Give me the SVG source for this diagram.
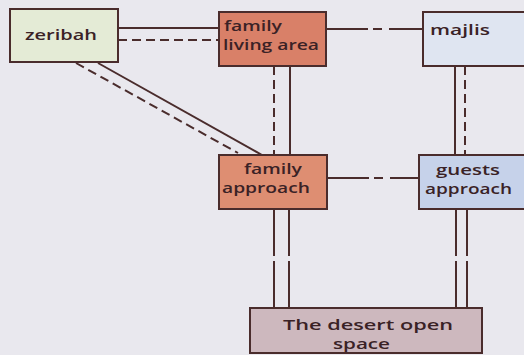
<svg xmlns="http://www.w3.org/2000/svg" width="524" height="355" viewBox="0 0 524 355">
<style>
.box{stroke:#4a2c2c;stroke-width:2}
.t{font-family:"Open Sans","Liberation Sans",Arial,sans-serif;font-size:15px;font-weight:600;fill:#3a2226}
.s{stroke:#4a2c2c;stroke-width:2;fill:none}
.d{stroke:#4a2c2c;stroke-width:2;fill:none;stroke-dasharray:9 5}
.dd{stroke:#4a2c2c;stroke-width:2;fill:none;stroke-dasharray:42 5 9 7 200}
</style>
<rect width="524" height="355" fill="#e9e8ee"/>
<g id="connectors">
<line class="s" x1="118" y1="28" x2="218" y2="28"/>
<line class="d" x1="118" y1="40" x2="218" y2="40"/>
<line class="s" x1="98" y1="63" x2="262" y2="155"/>
<line class="d" x1="76" y1="63" x2="238" y2="153"/>
<line class="dd" x1="326" y1="29" x2="423" y2="29"/>
<line class="dd" x1="327" y1="178" x2="419" y2="178"/>
<line class="d" x1="274" y1="66" x2="274" y2="155"/>
<line class="s" x1="290" y1="66" x2="290" y2="155"/>
<line class="s" x1="455" y1="66" x2="455" y2="155"/>
<line class="d" x1="465" y1="66" x2="465" y2="155"/>
<path class="s" d="M274 209V256M274 261V308M289 209V256M289 261V308M456 209V256M456 261V308M467 209V256M467 261V308"/>
</g>
<g id="zeribah">
<rect class="box" x="10" y="9" width="108" height="53" fill="#e4ebd6"/>
<text class="t" x="25" y="40" font-size="17" textLength="72" lengthAdjust="spacingAndGlyphs">zeribah</text>
</g>
<g id="family-living-area">
<rect class="box" x="219" y="12" width="107" height="54" fill="#d98068"/>
<text class="t" x="224" y="31" textLength="58" lengthAdjust="spacingAndGlyphs">family</text>
<text class="t" x="223" y="50" textLength="96" lengthAdjust="spacingAndGlyphs">living area</text>
</g>
<g id="majlis">
<rect class="box" x="423" y="12" width="110" height="54" fill="#dfe5f1"/>
<text class="t" x="430" y="35" font-size="17" textLength="60" lengthAdjust="spacingAndGlyphs">majlis</text>
</g>
<g id="family-approach">
<rect class="box" x="219" y="155" width="108" height="54" fill="#de8e72"/>
<text class="t" x="244" y="174" textLength="58" lengthAdjust="spacingAndGlyphs">family</text>
<text class="t" x="222" y="193" textLength="88" lengthAdjust="spacingAndGlyphs">approach</text>
</g>
<g id="guests-approach">
<rect class="box" x="419" y="155" width="114" height="54" fill="#c6d2ea"/>
<text class="t" x="436" y="175" textLength="64" lengthAdjust="spacingAndGlyphs">guests</text>
<text class="t" x="425" y="194" textLength="87" lengthAdjust="spacingAndGlyphs">approach</text>
</g>
<g id="desert-open-space">
<rect class="box" x="250" y="308" width="232" height="45" fill="#cdb8be"/>
<text class="t" x="283" y="330" textLength="170" lengthAdjust="spacingAndGlyphs">The  desert open</text>
<text class="t" x="333" y="349" textLength="57" lengthAdjust="spacingAndGlyphs">space</text>
</g>
</svg>
